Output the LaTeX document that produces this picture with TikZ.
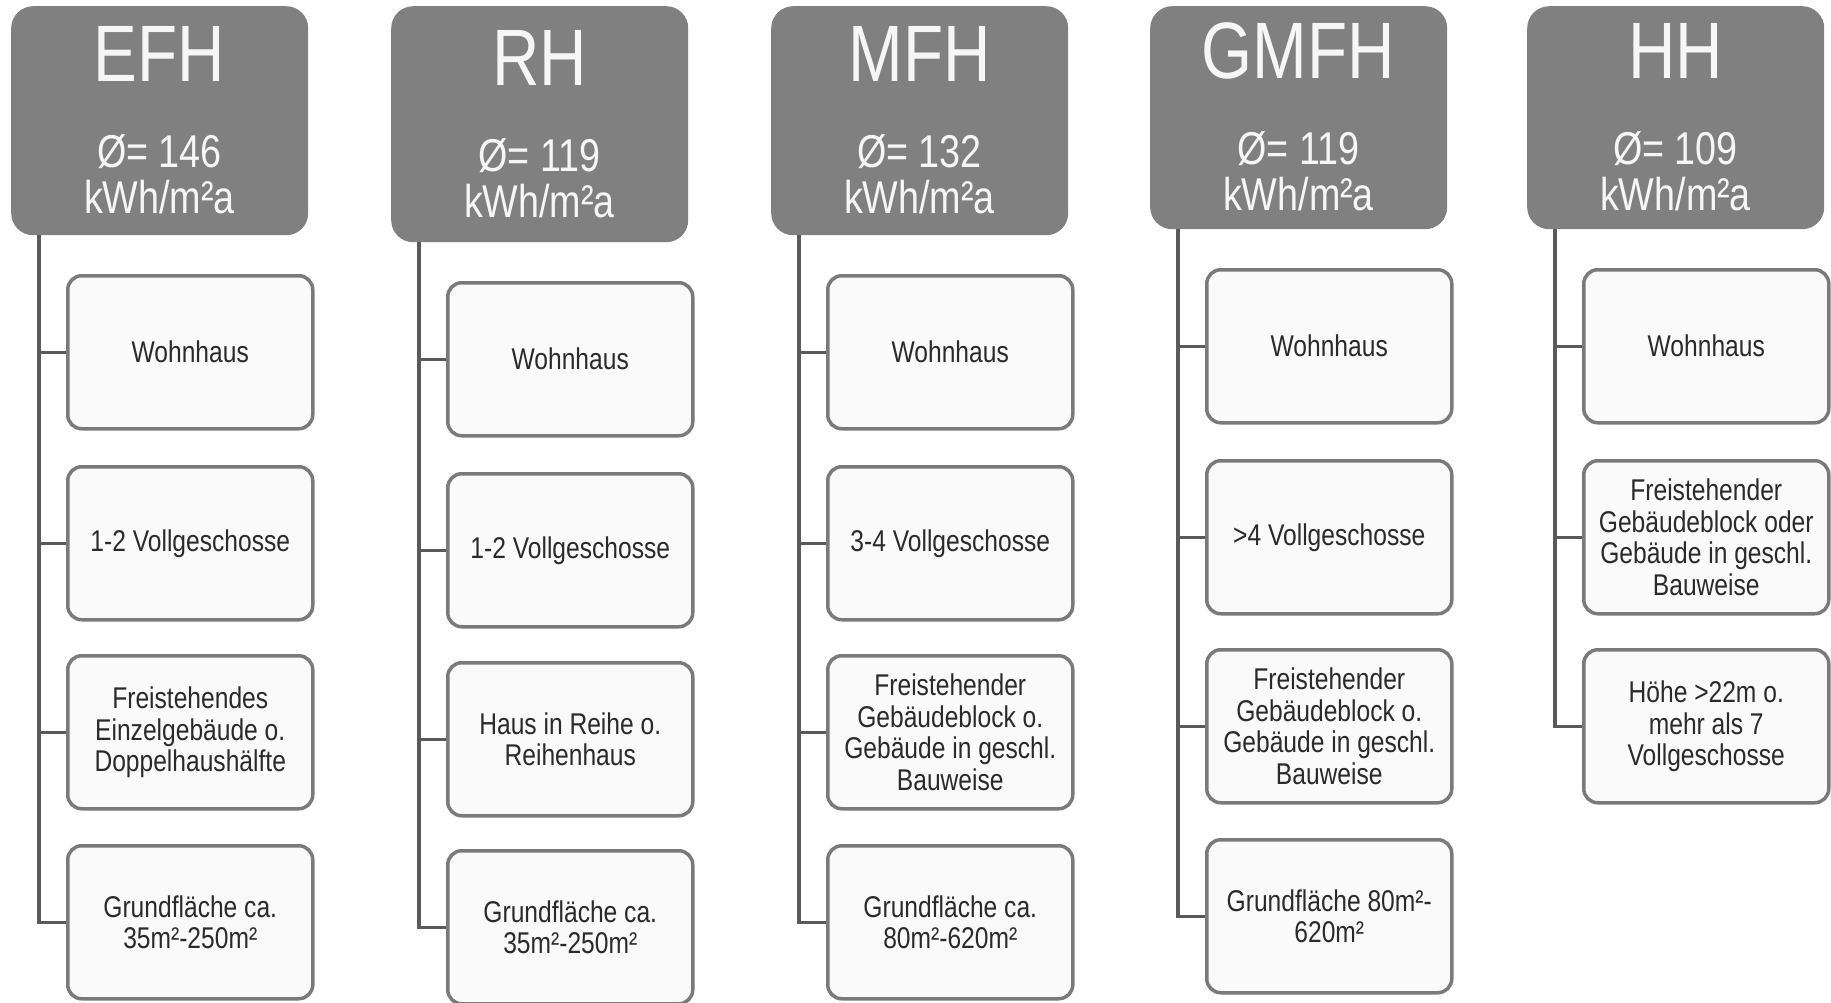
\documentclass[tikz,border=0pt]{standalone}
\usepackage{fontspec}
\setmainfont{Liberation Sans}[FakeStretch=0.82]
\definecolor{hdrgray}{HTML}{808080}
\definecolor{boxline}{HTML}{7A7A7A}
\definecolor{boxfill}{HTML}{FAFAFA}
\definecolor{connc}{HTML}{5A5A5A}
\definecolor{txtc}{HTML}{2A2A2A}
\definecolor{hdrtxt}{HTML}{F6F6F6}
\tikzset{
  hdrbox/.style={fill=hdrgray, draw=none, rounded corners=22pt, minimum width=297pt, inner sep=0pt},
  titletext/.style={anchor=base, text=hdrtxt, inner sep=0pt, font=\fontsize{80}{80}\selectfont},
  valtext/.style={anchor=base, text=hdrtxt, inner sep=0pt, font=\fontsize{46}{46}\selectfont},
  itembox/.style={draw=boxline, fill=boxfill, line width=3.5pt, rounded corners=14pt,
    minimum width=245pt, minimum height=153pt, inner sep=0pt, align=center, text=txtc,
    font=\fontsize{30}{31.5}\selectfont},
  conn/.style={draw=connc, line width=3.5pt}
}
\newcommand\myhdr[6]{%
  \node[hdrbox, minimum height={229+#3}, anchor=north west] (#1) at (#2,6) {};
  \node[titletext] (#1-t) at ({#2+148.5},{82+#4}) {#5};
  \node[valtext] (#1-v) at ({#2+148.5},{168+#4}) {Ø= #6};
  \node[valtext] (#1-u) at ({#2+148.5},{214+#4}) {kWh/m²a};
}
\newcommand\myitem[4]{%
  \node[itembox, anchor=north west] (#1) at ({#2+55},#3) {#4};
}
\begin{document}
\begin{tikzpicture}[x=1pt,y=-1pt]
\useasboundingbox[fill=white] (0,0) rectangle (1831,1003);

% EFH
\myhdr{efh}{11}{0}{0}{EFH}{146}
\myitem{efh-1}{11}{274}{Wohnhaus}
\myitem{efh-2}{11}{465}{1-2 Vollgeschosse}
\myitem{efh-3}{11}{654}{Freistehendes\\Einzelgebäude o.\\Doppelhaushälfte}
\myitem{efh-4}{11}{844}{Grundfläche ca.\\35m²-250m²}
\draw[conn] ([xshift=28pt]efh.south west) |- (efh-4.west);
\foreach \i in {1,2,3} \draw[conn] (efh-\i.west) -- ++(-27,0);

% RH
\myhdr{rh}{391}{7}{4}{RH}{119}
\myitem{rh-1}{391}{281}{Wohnhaus}
\myitem{rh-2}{391}{472}{1-2 Vollgeschosse}
\myitem{rh-3}{391}{661}{Haus in Reihe o.\\Reihenhaus}
\myitem{rh-4}{391}{849}{Grundfläche ca.\\35m²-250m²}
\draw[conn] ([xshift=28pt]rh.south west) |- (rh-4.west);
\foreach \i in {1,2,3} \draw[conn] (rh-\i.west) -- ++(-27,0);

% MFH
\myhdr{mfh}{771}{0}{0}{MFH}{132}
\myitem{mfh-1}{771}{274}{Wohnhaus}
\myitem{mfh-2}{771}{465}{3-4 Vollgeschosse}
\myitem{mfh-3}{771}{654}{Freistehender\\Gebäudeblock o.\\Gebäude in geschl.\\Bauweise}
\myitem{mfh-4}{771}{844}{Grundfläche ca.\\80m²-620m²}
\draw[conn] ([xshift=28pt]mfh.south west) |- (mfh-4.west);
\foreach \i in {1,2,3} \draw[conn] (mfh-\i.west) -- ++(-27,0);

% GMFH
\myhdr{gmfh}{1150}{-6}{-3}{GMFH}{119}
\myitem{gmfh-1}{1150}{268}{Wohnhaus}
\myitem{gmfh-2}{1150}{459}{>4 Vollgeschosse}
\myitem{gmfh-3}{1150}{648}{Freistehender\\Gebäudeblock o.\\Gebäude in geschl.\\Bauweise}
\myitem{gmfh-4}{1150}{838}{Grundfläche 80m²-\\620m²}
\draw[conn] ([xshift=28pt]gmfh.south west) |- (gmfh-4.west);
\foreach \i in {1,2,3} \draw[conn] (gmfh-\i.west) -- ++(-27,0);

% HH
\myhdr{hh}{1527}{-6}{-3}{HH}{109}
\myitem{hh-1}{1527}{268}{Wohnhaus}
\myitem{hh-2}{1527}{459}{Freistehender\\Gebäudeblock oder\\Gebäude in geschl.\\Bauweise}
\myitem{hh-3}{1527}{648}{Höhe >22m o.\\mehr als 7\\Vollgeschosse}
\draw[conn] ([xshift=28pt]hh.south west) |- (hh-3.west);
\foreach \i in {1,2} \draw[conn] (hh-\i.west) -- ++(-27,0);
\end{tikzpicture}
\end{document}
